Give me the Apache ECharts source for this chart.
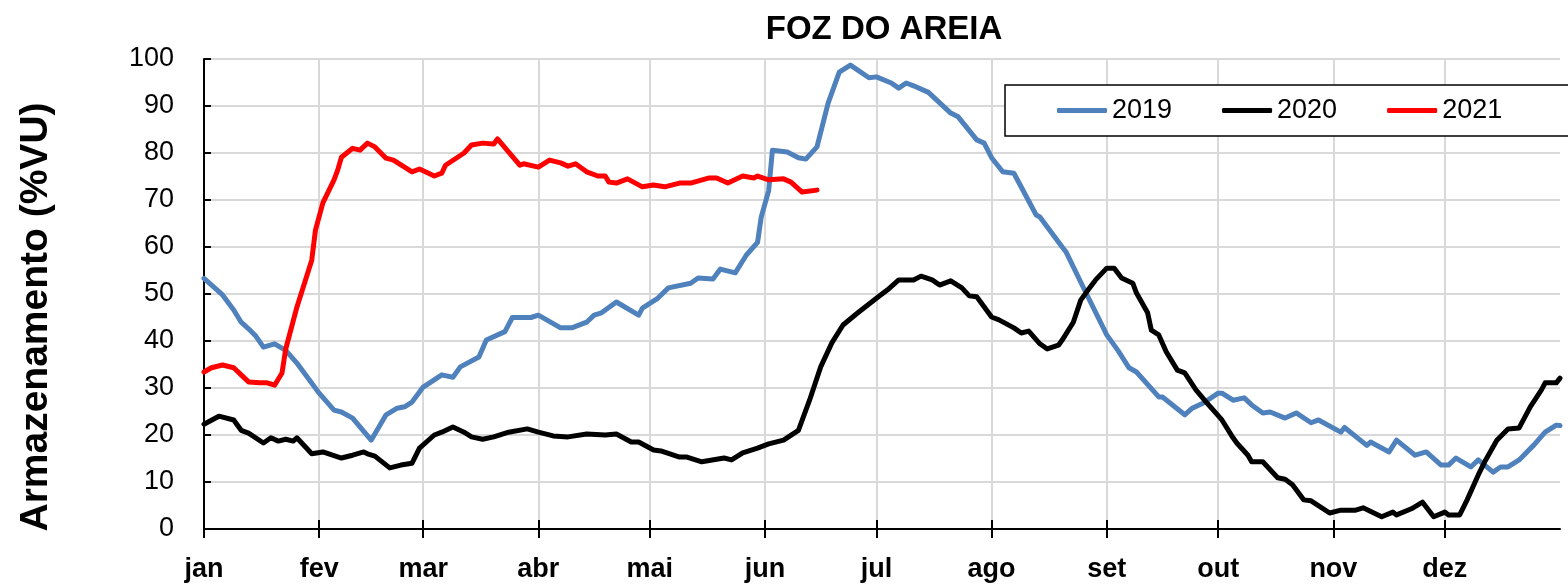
<!DOCTYPE html>
<html>
<head>
<meta charset="utf-8">
<script src="https://cdn.jsdelivr.net/npm/echarts@6/dist/echarts.min.js"></script>
<style>
  html, body { margin: 0; padding: 0; background: #fff; }
  #chart { width: 1568px; height: 585px; }
</style>
</head>
<body>
<div id="chart"></div>
<script>
// month ticks (day of year where each month starts)
var monthNames = ['jan', 'fev', 'mar', 'abr', 'mai', 'jun', 'jul', 'ago', 'set', 'out', 'nov', 'dez'];
var monthStarts = [0, 31, 59, 90, 120, 151, 181, 212, 243, 273, 304, 334];
var lastDay = 365;

// readings: day of year / storage (%VU)
var days2019 = [0, 5, 8, 10, 12, 14, 16, 19, 22, 25, 31, 35, 37, 40, 45, 49, 52, 54, 56, 59, 64, 67, 69, 74, 76, 81, 83, 88, 90, 96, 99, 103, 105, 107, 111, 117, 118, 122, 125, 131, 133, 137, 139, 143, 146, 149, 150, 152, 153, 157, 160, 162, 165, 168, 171, 174, 179, 181, 185, 187, 189, 191, 195, 201, 203, 208, 210, 212, 215, 218, 224, 225, 231, 232, 237, 243, 246, 249, 251, 257, 258, 264, 266, 269, 273, 274, 277, 280, 282, 285, 287, 291, 294, 298, 300, 306, 307, 313, 314, 319, 321, 326, 329, 333, 335, 337, 341, 343, 347, 349, 351, 354, 358, 361, 364, 365];
var vals2019 = [53.3, 49.8, 46.6, 44, 42.6, 41, 38.7, 39.4, 38, 35.3, 28.9, 25.3, 24.9, 23.6, 18.9, 24.3, 25.7, 26, 27, 30.2, 32.8, 32.3, 34.5, 36.6, 40.2, 42, 45, 45, 45.5, 42.8, 42.8, 44, 45.5, 46, 48.3, 45.5, 47, 49, 51.3, 52.3, 53.4, 53.2, 55.3, 54.5, 58.3, 61, 66.4, 72, 80.6, 80.2, 79, 78.7, 81.3, 90.6, 97.2, 98.7, 96, 96.2, 94.9, 93.8, 94.9, 94.3, 92.9, 88.5, 87.7, 82.8, 82.1, 79, 76, 75.7, 66.8, 66.4, 60, 59, 50.9, 41.3, 38, 34.3, 33.4, 28.1, 28.1, 24.3, 25.7, 26.8, 28.9, 28.9, 27.4, 27.9, 26.4, 24.7, 24.9, 23.6, 24.7, 22.6, 23.2, 20.6, 21.6, 17.8, 18.5, 16.4, 18.9, 15.7, 16.4, 13.6, 13.6, 15.1, 13.2, 14.7, 12.1, 13.2, 13.2, 14.7, 17.9, 20.6, 22.1, 22];

var days2020 = [0, 4, 8, 10, 12, 16, 18, 20, 22, 24, 25, 29, 32, 37, 40, 43, 44, 46, 50, 53, 56, 58, 62, 64, 67, 70, 72, 75, 78, 82, 87, 90, 94, 98, 103, 108, 111, 115, 117, 121, 123, 128, 130, 134, 140, 142, 145, 149, 152, 156, 160, 163, 166, 169, 172, 176, 181, 184, 187, 191, 193, 196, 198, 201, 204, 206, 208, 212, 214, 218, 220, 222, 225, 227, 230, 231, 234, 236, 238, 240, 243, 245, 247, 250, 251, 254, 255, 257, 259, 262, 264, 267, 270, 274, 277, 278, 281, 282, 285, 289, 291, 293, 296, 298, 303, 306, 310, 312, 317, 320, 321, 325, 328, 331, 334, 335, 338, 340, 343, 345, 348, 351, 354, 357, 360, 361, 364, 365];
var vals2020 = [22.3, 24, 23.2, 21, 20.4, 18.3, 19.4, 18.7, 19.1, 18.7, 19.4, 16, 16.4, 15.1, 15.7, 16.4, 16, 15.5, 13, 13.6, 14, 17.2, 20, 20.6, 21.7, 20.6, 19.6, 19.1, 19.6, 20.6, 21.3, 20.6, 19.8, 19.6, 20.2, 20, 20.2, 18.5, 18.5, 16.8, 16.6, 15.3, 15.3, 14.3, 15.1, 14.7, 16.2, 17.2, 18.1, 18.9, 21, 27.4, 34.5, 39.6, 43.4, 46, 49.1, 50.9, 53, 53, 53.8, 53, 51.9, 52.8, 51.3, 49.6, 49.4, 45.1, 44.5, 42.8, 41.7, 42.1, 39.4, 38.3, 39.1, 40.2, 44, 48.7, 50.9, 53, 55.5, 55.5, 53.4, 52.3, 50.2, 46, 42.3, 41.3, 37.7, 33.8, 33.2, 29.6, 26.8, 23.2, 19.4, 18.3, 15.7, 14.3, 14.3, 10.9, 10.6, 9.4, 6.2, 6, 3.4, 4, 4, 4.5, 2.6, 3.6, 3, 4.3, 5.7, 2.6, 3.6, 3, 3, 6.2, 11.5, 14.7, 18.9, 21.3, 21.5, 26, 29.6, 31.1, 31.1, 32.1];

var days2021 = [0, 2, 5, 8, 10, 12, 15, 17, 19, 21, 22, 25, 29, 30, 32, 35, 36, 37, 40, 42, 44, 46, 49, 51, 56, 58, 62, 64, 65, 70, 72, 75, 78, 79, 85, 86, 90, 93, 96, 98, 100, 103, 106, 108, 109, 111, 114, 118, 121, 124, 128, 131, 136, 138, 141, 145, 148, 149, 152, 156, 158, 161, 165];
var vals2021 = [33.4, 34.3, 34.9, 34.3, 32.8, 31.3, 31.1, 31.1, 30.6, 33.2, 38.3, 47.2, 57.2, 63.6, 69.4, 74.3, 76.4, 79.1, 81, 80.6, 82.1, 81.3, 78.9, 78.5, 76, 76.6, 75.1, 75.7, 77.4, 80, 81.7, 82.1, 81.9, 83, 77.4, 77.7, 77, 78.5, 77.9, 77.2, 77.7, 76, 75.1, 75.1, 73.8, 73.6, 74.5, 72.8, 73.2, 72.8, 73.6, 73.6, 74.7, 74.7, 73.6, 75.1, 74.7, 75.1, 74.3, 74.5, 73.8, 71.7, 72.1];

var FONT = "'Liberation Sans', Arial, sans-serif";

function zip(days, vals) {
  return days.map(function (d, i) { return [d, vals[i]]; });
}

function isMonthStart(index) {
  return monthStarts.indexOf(index) >= 0;
}

var dayAxis = [];
for (var d = 0; d <= lastDay; d++) dayAxis.push(String(d));

var tickLine = { color: '#000', width: 2 };
var gridLine = { color: '#d9d9d9', width: 2 };

function yearSeries(name, color, data) {
  return {
    name: name,
    type: 'line',
    symbol: 'none',
    data: data,
    lineStyle: { color: color, width: 5, cap: 'round', join: 'round' },
    itemStyle: { color: color }
  };
}

var option = {
  animation: false,
  backgroundColor: '#fff',
  title: {
    text: 'FOZ DO AREIA',
    left: 879,
    top: 8,
    textAlign: 'center',
    textStyle: { fontFamily: FONT, fontSize: 33, fontWeight: 'bold', color: '#000' }
  },
  legend: {
    data: ['2019', '2020', '2021'],
    left: 1005,
    top: 85,
    width: 620,
    icon: 'roundRect',
    itemWidth: 50,
    itemHeight: 5,
    itemGap: 50,
    padding: [12, 80, 12, 52],
    borderColor: '#000',
    borderWidth: 1.5,
    borderRadius: 0,
    backgroundColor: '#fff',
    textStyle: { fontFamily: FONT, fontSize: 27, color: '#000' }
  },
  grid: { left: 204, right: 8, top: 59, bottom: 56 },
  xAxis: [{
    type: 'category',
    data: dayAxis,
    boundaryGap: false,
    position: 'bottom',
    axisLine: { lineStyle: tickLine },
    axisTick: { interval: isMonthStart, length: 9, lineStyle: tickLine },
    axisLabel: {
      interval: isMonthStart,
      formatter: function (v) { return monthNames[monthStarts.indexOf(+v)]; },
      margin: 27,
      fontFamily: FONT,
      fontSize: 27,
      fontWeight: 'bold',
      color: '#000'
    },
    splitLine: { show: true, interval: isMonthStart, lineStyle: gridLine }
  }, {
    // second copy only for the inner half of the crossing ticks
    type: 'category',
    data: dayAxis,
    boundaryGap: false,
    position: 'bottom',
    axisLine: { show: false },
    axisTick: { inside: true, interval: isMonthStart, length: 9, lineStyle: tickLine },
    axisLabel: { show: false },
    splitLine: { show: false }
  }],
  yAxis: {
    type: 'value',
    min: 0,
    max: 100,
    interval: 10,
    name: 'Armazenamento (%VU)',
    nameLocation: 'middle',
    nameGap: 148,
    nameTextStyle: { fontFamily: FONT, fontSize: 39, fontWeight: 'bold', color: '#000', padding: [0, 46, 0, 0] },
    axisLine: { show: true, lineStyle: tickLine },
    axisTick: { show: true, inside: true, length: 7, lineStyle: tickLine },
    axisLabel: { fontFamily: FONT, fontSize: 27, color: '#000', margin: 30 },
    splitLine: { lineStyle: gridLine }
  },
  series: [
    yearSeries('2019', '#4f81bd', zip(days2019, vals2019)),
    yearSeries('2020', '#000000', zip(days2020, vals2020)),
    yearSeries('2021', '#ff0000', zip(days2021, vals2021))
  ]
};

echarts.init(document.getElementById('chart')).setOption(option);
</script>
</body>
</html>
